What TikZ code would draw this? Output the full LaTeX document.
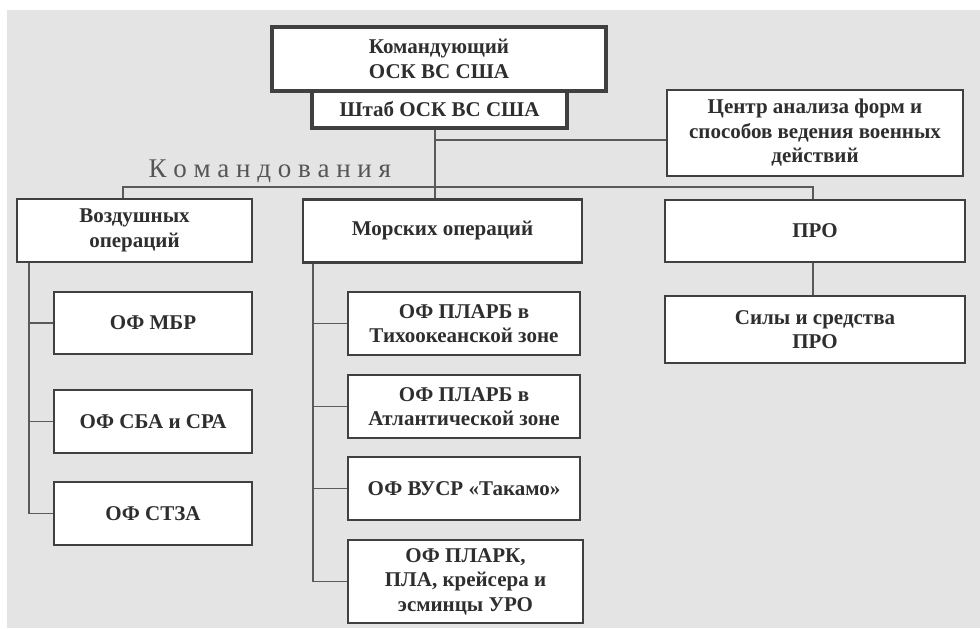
\documentclass[tikz,border=0pt]{standalone}
\usepackage{fontspec}
\setmainfont{Liberation Serif}
\definecolor{bggray}{HTML}{E4E4E4}
\definecolor{boxgray}{HTML}{404040}
\definecolor{linegray}{HTML}{5A5A5A}
\definecolor{txtgray}{HTML}{2E2E2E}
\definecolor{capgray}{HTML}{555555}

\begin{document}
\begin{tikzpicture}[x=1pt,y=-1pt]

	\tikzset{
	  box/.style={
		draw=boxgray,
		line width=2.6pt,
		fill=white,
		align=center,
		inner sep=0pt,
		text=txtgray,
		font=\fontsize{21}{24.5}\selectfont\bfseries,
	  },
	  sz/.style 2 args={minimum width=#1pt, minimum height=#2pt},
	  link/.style={draw=linegray, line width=1.5pt},
	}
	\useasboundingbox (0,0) rectangle (980,629);
	\fill[bggray] (7,10) rectangle (980,628);

	% top
	\node[box, sz={255}{37}, line width=3.4pt] (shtab) at (439.5,109.5) {Штаб ОСК ВС США};
	\node[box, sz={334}{64}, line width=3.8pt] (cmd) at (439,59) {Командующий\\ОСК ВС США};
	\node[box, sz={296}{86}] (center) at (815,133) {Центр анализа форм и\\способов ведения военных\\действий};
	\node[anchor=base west, text=capgray, font=\fontsize{27}{30}\selectfont] (cmds) at (145,177) {К о м а н д о в а н и я};

	% commands
	\node[box, sz={235}{63}] (air) at (134.5,230.5) {Воздушных\\операций};
	\node[box, sz={279}{63}] (sea) at (442.5,231) {Морских операций};
	\node[box, sz={300}{62}] (pro) at (815,231) {ПРО};

	\node[box, sz={198}{62}] (mbr) at (153,323) {ОФ МБР};
	\node[box, sz={198}{63}] (sba) at (153,421.5) {ОФ СБА и СРА};
	\node[box, sz={198}{63}] (stza) at (153,513.5) {ОФ СТЗА};

	\node[box, sz={232}{63}] (plarbA) at (464,323.5) {ОФ ПЛАРБ в\\Тихоокеанской зоне};
	\node[box, sz={232}{63}] (plarbB) at (464,406.5) {ОФ ПЛАРБ в\\Атлантической зоне};
	\node[box, sz={232}{63}] (vusr) at (464,488.5) {ОФ ВУСР «Такамо»};
	\node[box, sz={235}{83}] (plark) at (465.5,581.5) {ОФ ПЛАРК,\\ПЛА, крейсера и\\эсминцы УРО};

	\node[box, sz={300}{67}] (sily) at (815,329.5) {Силы и средства\\ПРО};

	% links
	\coordinate (spine) at (435,187);
	\coordinate (busL) at (123,187);
	\coordinate (busR) at (813,187);
	\coordinate (cjoin) at (435,140);
	\coordinate (airT) at (29,0);
	\coordinate (seaT) at (313,0);

	\draw[link] (shtab.south -| spine) -- (sea.north -| spine);
	\draw[link] (cjoin) -- (cjoin -| center.west);
	\draw[link] (air.north -| busL) -- (busL) -- (busR) -- (pro.north -| busR);
	\draw[link] (pro.south -| busR) -- (sily.north -| busR);
	\foreach \n in {mbr,sba,stza}
		\draw[link] (air.south -| airT) |- (\n.west);
	\foreach \n in {plarbA,plarbB,vusr,plark}
		\draw[link] (sea.south -| seaT) |- (\n.west);

\end{tikzpicture}
\end{document}
